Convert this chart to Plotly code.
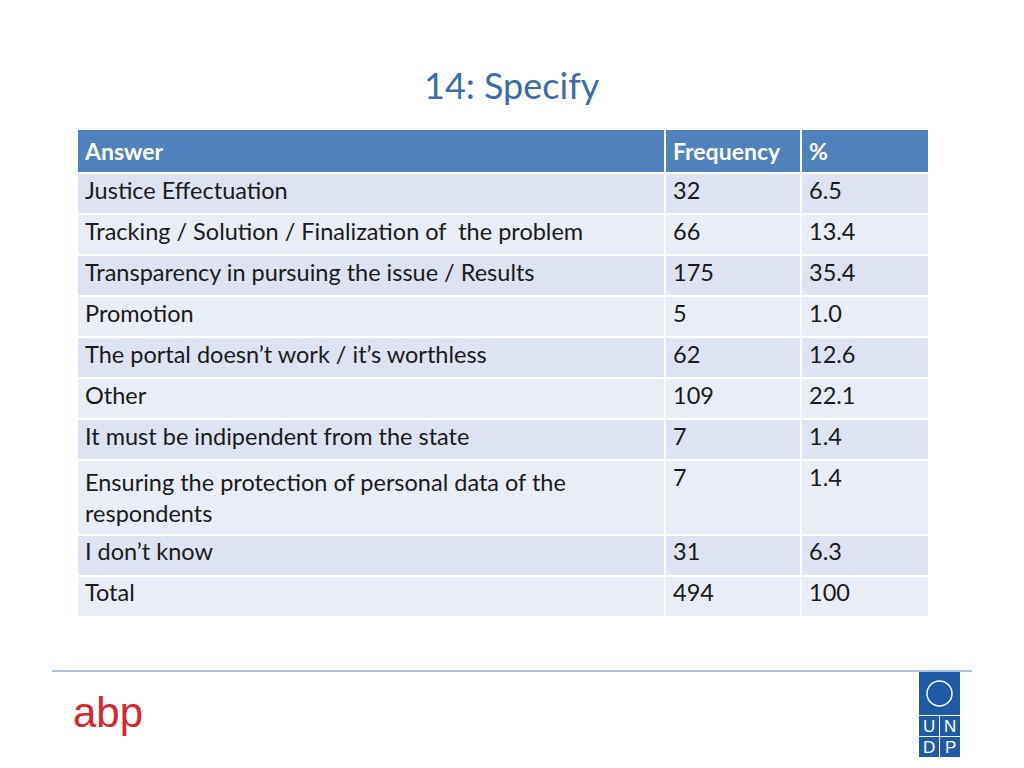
import plotly.graph_objects as go

headers = ["Answer", "Frequency", "%"]
answers = ["Justice Effectuation",
           "Tracking / Solution / Finalization of  the problem",
           "Transparency in pursuing the issue / Results",
           "Promotion",
           "The portal doesn’t work / it’s worthless",
           "Other",
           "It must be indipendent from the state",
           "Ensuring the protection of personal data of the<br>respondents",
           "I don’t know",
           "Total"]
freq = ["32", "66", "175", "5", "62", "109", "7", "7", "31", "494"]
pct = ["6.5", "13.4", "35.4", "1.0", "12.6", "22.1", "1.4", "1.4", "6.3", "100"]

W, H = 1024, 768
OFF = 8
def px(x): return (x - OFF) / W
def py(y): return 1 - (y - OFF) / H

row_colors = ["#dde3f0" if i % 2 == 0 else "#e9edf5" for i in range(len(answers))]
font = "Lato, Open Sans, sans-serif"

fig = go.Figure(go.Table(
    domain=dict(x=[px(77), px(929)], y=[0, py(129)]),
    columnwidth=[588, 136, 128],
    header=dict(values=[f"<b>{h}</b>" for h in headers], fill_color="#4f81bd",
                line=dict(color="white", width=2), align="left", height=38,
                font=dict(color="white", size=23, family=font)),
    cells=dict(values=[answers, freq, pct], fill_color=[row_colors] * 3,
               line=dict(color="white", width=2), align="left", height=41,
               font=dict(color="#1a1a1a", size=23.5, family=font)),
))

shapes = [dict(type="line", xref="paper", yref="paper", x0=px(52), x1=px(972),
               y0=py(671), y1=py(671), line=dict(color="#8eaad4", width=1.5))]
shapes.append(dict(type="rect", xref="paper", yref="paper", x0=px(919), x1=px(960),
                   y0=py(715), y1=py(672), fillcolor="#1f5aa6", line_width=0))
boxes = [(919, 716), (940, 716), (919, 737), (940, 737)]
for (x0, y0) in boxes:
    shapes.append(dict(type="rect", xref="paper", yref="paper", x0=px(x0), x1=px(x0 + 20),
                       y0=py(y0 + 20), y1=py(y0), fillcolor="#1f5aa6", line_width=0))
shapes.append(dict(type="circle", xref="paper", yref="paper", x0=px(927), x1=px(952),
                   y0=py(706), y1=py(681), line=dict(color="white", width=1.5)))

ann = [dict(text="14: Specify", x=px(512), y=py(85), xanchor="center", yanchor="middle",
            font=dict(size=36, color="#3b6da8", family=font)),
       dict(text="abp", x=px(108), y=py(712), xanchor="center", yanchor="middle",
            font=dict(size=42, color="#d9262e", family="Liberation Sans Narrow, Liberation Sans"))]
for t, (x0, y0) in zip("UNDP", boxes):
    ann.append(dict(text=t, x=px(x0 + 10), y=py(y0 + 10), xanchor="center", yanchor="middle",
                    font=dict(size=17, color="white", family="Liberation Sans")))
for a in ann:
    a.update(xref="paper", yref="paper", showarrow=False)

fig.update_layout(width=W, height=H, margin=dict(l=0, r=0, t=0, b=0),
                  paper_bgcolor="white", plot_bgcolor="white", shapes=shapes, annotations=ann)
fig.write_html("out.html")
